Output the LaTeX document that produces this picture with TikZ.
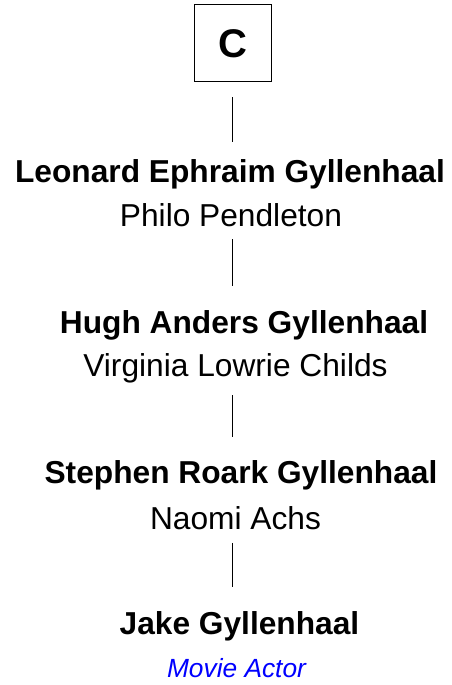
\documentclass[tikz,border=0pt]{standalone}
\usepackage{fontspec}
\setmainfont{Liberation Sans}
\usepackage{tikz}
\usetikzlibrary{positioning}

\begin{document}
\begin{tikzpicture}[x=1bp,y=1bp,
    every node/.style={inner sep=0pt,outer sep=0pt},
    person/.style={text height=23bp,text depth=0pt,
      font=\fontsize{31.7bp}{38bp}\selectfont\bfseries},
    spouse/.style={text height=23bp,text depth=0pt,
      font=\fontsize{31.7bp}{38bp}\selectfont},
    job/.style={text height=19bp,text depth=0pt,text=blue,
      font=\fontsize{26.3bp}{32bp}\selectfont\itshape},
    letterbox/.style={draw,line width=1bp,minimum size=77bp,
      font=\fontsize{40bp}{48bp}\selectfont\bfseries},
    link/.style={line width=1bp}]
    \useasboundingbox (0,0) rectangle (452,-685);

    \node(c) [letterbox] at (232.5,-43.5) {C};

    \node(leonard) [person,below=77.3bp of c,xshift=-2.5bp] {Leonard Ephraim Gyllenhaal};
    \node(philo) [spouse,below=21.5bp of leonard,xshift=1bp] {Philo Pendleton};

    \node(hugh) [person,below=83.5bp of philo,xshift=13bp] {Hugh Anders Gyllenhaal};
    \node(virginia) [spouse,below=20.5bp of hugh,xshift=-8.5bp] {Virginia Lowrie Childs};

    \node(stephen) [person,below=84bp of virginia,xshift=5.5bp] {Stephen Roark Gyllenhaal};
    \node(naomi) [spouse,below=23bp of stephen,xshift=-5.5bp] {Naomi Achs};

    \node(jake) [person,below=81.5bp of naomi,xshift=4bp] {Jake Gyllenhaal};
    \node(actor) [job,below=24.5bp of jake,xshift=-3bp] {Movie Actor};

    \draw[link,shorten <=15bp,shorten >=17.3bp](c.south) -- (leonard.north -| c.south);
    \draw[link,shorten <=12.3bp,shorten >=24.6bp](philo.south -| c.south) -- (hugh.north -| c.south);
    \draw[link,shorten <=18.3bp,shorten >=23.5bp](virginia.south -| c.south) -- (stephen.north -| c.south);
    \draw[link,shorten <=13bp,shorten >=24.5bp](naomi.south -| c.south) -- (jake.north -| c.south);
  \end{tikzpicture}
\end{document}
